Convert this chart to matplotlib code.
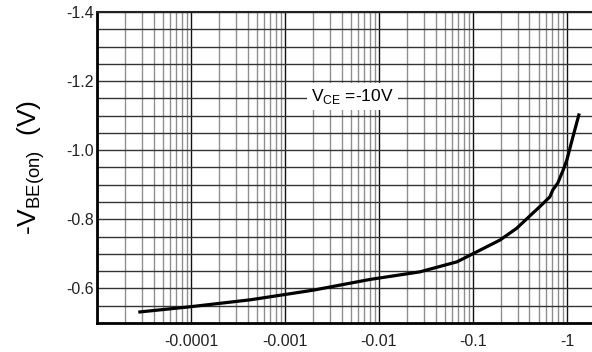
import numpy as np
import matplotlib
matplotlib.use("Agg")
import matplotlib.pyplot as plt
from matplotlib.ticker import FixedLocator, FixedFormatter

# Collector current magnitude (A) and base-emitter voltage magnitude (V)
ic = [2.86e-5, 9.8e-5, 4.25e-4, 2.0e-3, 8.0e-3, 0.0273, 0.0676, 0.194, 0.292, 0.434, 0.516,
      0.659, 0.708, 0.80, 0.914, 1.0, 1.16, 1.34]
vbe = [0.532, 0.547, 0.567, 0.595, 0.626, 0.648, 0.677, 0.740, 0.774, 0.818, 0.837,
       0.865, 0.885, 0.905, 0.943, 0.972, 1.039, 1.102]

x_ticks = [1e-4, 1e-3, 1e-2, 1e-1, 1]
x_labels = ["-0.0001", "-0.001", "-0.01", "-0.1", "-1"]
y_ticks = [-0.6, -0.8, -1.0, -1.2, -1.4]
y_labels = ["-0.6", "-0.8", "-1.0", "-1.2", "-1.4"]

plt.rcParams['font.family'] = ['Liberation Sans', 'DejaVu Sans']

fig = plt.figure(figsize=(5.92, 3.52), dpi=100)
ax = fig.add_axes([97/592, 1-323/352, 1-97/592, (323-12)/352])

ax.set_xscale('log')
ax.set_xlim(1e-5, 1.85)
ax.set_ylim(-0.5, -1.4)

# grid
decades = [1e-5, 1e-4, 1e-3, 1e-2, 1e-1, 1]
for d in decades:
    for m in range(2, 10):
        ax.axvline(d*m, color='#8f8f8f', lw=1.0, zorder=1)
for d in decades:
    ax.axvline(d, color='#111111', lw=1.0, zorder=1)
for yv in np.arange(-0.55, -1.41, -0.05):
    ax.axhline(yv, color='#333333', lw=1.0, zorder=1)

ax.plot(ic, [-v for v in vbe], color='black', lw=2.3, zorder=3, solid_joinstyle='round')

ax.xaxis.set_major_locator(FixedLocator(x_ticks))
ax.xaxis.set_major_formatter(FixedFormatter(x_labels))
ax.xaxis.set_minor_locator(FixedLocator([]))
ax.yaxis.set_major_locator(FixedLocator(y_ticks))
ax.yaxis.set_major_formatter(FixedFormatter(y_labels))
ax.tick_params(axis='both', length=0, labelsize=11.5, colors='#222222')
ax.tick_params(axis='x', pad=8)
ax.tick_params(axis='y', pad=2)

for s in ['left', 'bottom']:
    ax.spines[s].set_linewidth(2.0)
    ax.spines[s].set_color('black')
ax.spines['top'].set_linewidth(1.5)
ax.spines['top'].set_color('#222222')
ax.spines['right'].set_visible(False)

ax.set_ylabel(r"-V$_{\mathregular{BE(on)}}$  (V)", fontsize=19, labelpad=14)

ax.text(0.0052, -1.155, r"V$_{\mathregular{CE}}$ =-10V", fontsize=12.5, ha='center', va='center',
        zorder=4, bbox=dict(facecolor='white', edgecolor='none', pad=3))

fig.savefig("out.png", dpi=100)
